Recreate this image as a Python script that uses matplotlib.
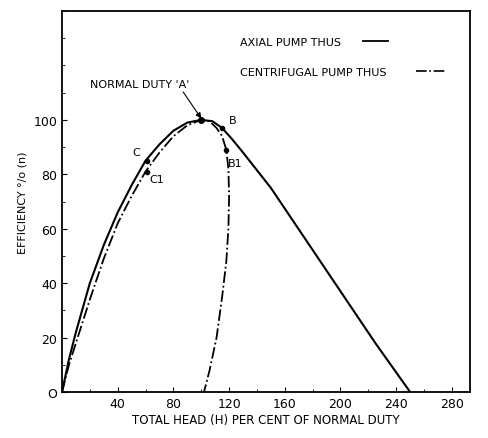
import matplotlib
matplotlib.use("Agg")
import matplotlib.pyplot as plt
from matplotlib.ticker import MultipleLocator

axial_x = [0, 5, 10, 20, 30, 40, 50, 60, 70, 80, 90, 100, 108, 115, 122, 130, 150, 175, 200, 225, 250]
axial_y = [0, 12, 22, 40, 54, 66, 76, 85, 91, 96, 99, 100, 99.5, 97, 93, 88, 75, 56, 37, 18, 0]
cent_x = [0, 5, 10, 20, 30, 40, 50, 60, 70, 80, 90, 100, 106, 111, 115, 118, 119.5, 120, 119.5, 118, 115, 111, 106, 102]
cent_y = [0, 10, 18, 34, 49, 62, 72, 81, 88, 94, 98, 100, 99.5, 97, 94, 89, 82, 72, 60, 48, 35, 20, 8, 0]
points = {"C": (61, 85), "C1": (61, 81), "B": (115, 97), "B1": (118, 89)}
xticks = [0, 40, 80, 120, 160, 200, 240, 280]
yticks = [20, 40, 60, 80, 100]

fig = plt.figure(figsize=(4.88, 4.39), dpi=100)
ax = fig.add_axes([62/488, 46/439, 408/488, 381/439])
ax.plot(axial_x, axial_y, color="black", lw=1.5)
ax.plot(cent_x, cent_y, color="black", lw=1.3, ls="-.")
for k, (x, y) in points.items():
    ax.plot(x, y, "o", color="black", ms=3)
ax.plot(100, 100, "o", color="black", ms=4)
ax.text(56, 87, "C", fontsize=8, ha="right")
ax.text(63, 77, "C1", fontsize=8, ha="left")
ax.text(120, 99, "B", fontsize=8, ha="left")
ax.text(119, 83, "B1", fontsize=8, ha="left")
ax.annotate("NORMAL DUTY 'A'", xy=(100, 100.5), xytext=(20, 112), fontsize=8,
            arrowprops=dict(arrowstyle="-|>", color="black", lw=0.8,
                            shrinkA=0, shrinkB=0, relpos=(0.92, 0)))
ax.text(128, 127.5, "AXIAL PUMP THUS", fontsize=8, ha="left")
ax.plot([216, 234], [129, 129], color="black", lw=1.3)
ax.text(128, 116.5, "CENTRIFUGAL PUMP THUS", fontsize=8, ha="left")
ax.plot([254, 276], [118, 118], color="black", lw=1.2, ls="-.")

ax.set_xlim(0, 293)
ax.set_ylim(0, 140)
ax.set_xticks(xticks)
ax.set_yticks([0] + yticks)
ax.set_yticklabels(["O"] + [str(v) for v in yticks])
ax.xaxis.set_minor_locator(MultipleLocator(20))
ax.yaxis.set_minor_locator(MultipleLocator(10))
ax.tick_params(direction="in", labelsize=9)
ax.tick_params(which="minor", direction="in")
ax.set_xticklabels(["" if v == 0 else str(v) for v in xticks])
ax.set_xlabel("TOTAL HEAD (H) PER CENT OF NORMAL DUTY", fontsize=8.5, labelpad=2)
ax.set_ylabel("EFFICIENCY °/o (n)", fontsize=8, labelpad=4)
for s in ax.spines.values():
    s.set_linewidth(1.3)
fig.savefig("out.png", dpi=100)
